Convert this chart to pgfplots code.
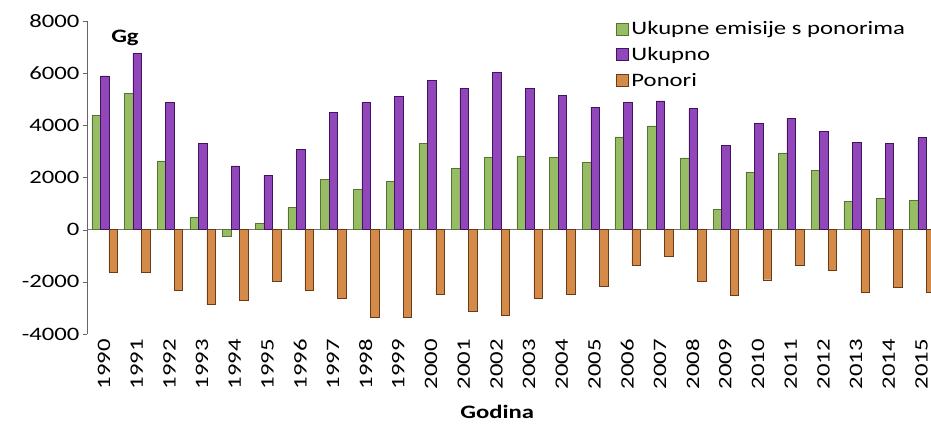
\documentclass[border=0pt]{standalone}
\usepackage{fontspec}
\setmainfont{Carlito}[FakeStretch=1.3]
\usepackage{pgfplots}
\usepackage{pgfplotstable}
\pgfplotsset{compat=1.18}
\definecolor{gfill}{RGB}{150,188,100}
\definecolor{gedge}{RGB}{85,115,50}
\definecolor{pfill}{RGB}{145,70,185}
\definecolor{pedge}{RGB}{65,20,95}
\definecolor{ofill}{RGB}{212,138,72}
\definecolor{oedge}{RGB}{105,60,25}
\pgfplotstableread{
x year green purple orange
0 1990 4390 5900 -1620
1 1991 5220 6760 -1620
2 1992 2640 4880 -2330
3 1993 460 3300 -2870
4 1994 -250 2450 -2710
5 1995 230 2090 -1970
6 1996 850 3090 -2330
7 1997 1930 4490 -2620
8 1998 1550 4880 -3350
9 1999 1860 5120 -3350
10 2000 3300 5730 -2460
11 2001 2340 5410 -3120
12 2002 2770 6030 -3290
13 2003 2830 5410 -2620
14 2004 2770 5160 -2480
15 2005 2570 4700 -2160
16 2006 3560 4880 -1370
17 2007 3980 4940 -1010
18 2008 2750 4650 -1970
19 2009 770 3240 -2520
20 2010 2210 4070 -1920
21 2011 2940 4260 -1370
22 2012 2280 3780 -1540
23 2013 1090 3340 -2390
24 2014 1190 3300 -2200
25 2015 1130 3530 -2390
}\datatable
\newcommand{\tf}{\fontsize{19}{22}\selectfont}
\begin{document}
\begin{tikzpicture}
\useasboundingbox (-87pt,-94pt) rectangle (844pt,334pt);
\begin{axis}[
  at={(0pt,0pt)}, anchor=south west,
  scale only axis, width=844pt, height=313pt,
  xmin=-0.52, xmax=25.29, ymin=-4000, ymax=8000,
  axis lines*=left,
  x axis line style={draw=none},
  ytick={-4000,-2000,0,2000,4000,6000,8000},
  xtick={0,...,25},
  xticklabels={1990,1991,1992,1993,1994,1995,1996,1997,1998,1999,2000,2001,2002,2003,2004,2005,2006,2007,2008,2009,2010,2011,2012,2013,2014,2015},
  xticklabel style={rotate=90, anchor=east, font=\tf, inner sep=1pt},
  yticklabel style={font=\tf, /pgf/number format/1000 sep={}},
  /pgf/number format/assume math mode=true,
  x tick style={draw=none},
  y tick style={black!60},
  tick align=outside,
  major tick length=4pt,
  y axis line style={black!60},
  extra y ticks={0},
  extra y tick labels={},
  extra y tick style={grid=major, major grid style={black!55, line width=0.6pt}, tick style={draw=none}},
  ybar, bar width=8.5pt,
  xlabel={Godina},
  xlabel style={at={(axis description cs:0.486,-0.249)}, anchor=center, font=\tf\bfseries},
  legend style={at={(axis description cs:0.626,1.005)}, anchor=north west, draw=none, fill=none, font=\tf, row sep=7pt, inner sep=0pt},
  legend cell align=left,
  legend image code/.code={\draw[#1] (0pt,-6pt) rectangle (12pt,6pt);},
]
\addplot[fill=gfill, draw=gedge, bar shift=-8pt] table[x=x,y=green]{\datatable};
\addplot[fill=pfill, draw=pedge, bar shift=0.5pt] table[x=x,y=purple]{\datatable};
\addplot[fill=ofill, draw=oedge, bar shift=9pt] table[x=x,y=orange]{\datatable};
\legend{\hspace{1.5pt}Ukupne emisije s ponorima, \hspace{1.5pt}Ukupno, \hspace{1.5pt}Ponori}
\node[font=\tf\bfseries] at (axis description cs:0.045,0.946) {Gg};
\end{axis}
\end{tikzpicture}
\end{document}
